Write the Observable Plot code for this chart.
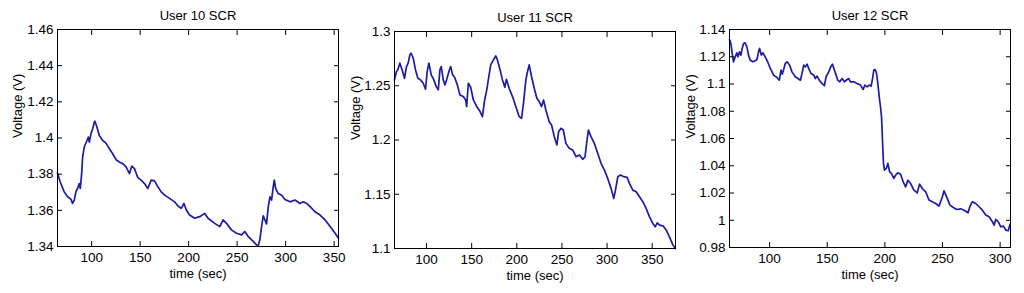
<!DOCTYPE html>
<html>
<head>
<meta charset="utf-8">
<script src="https://cdn.jsdelivr.net/npm/d3@7"></script>
<script src="https://cdn.jsdelivr.net/npm/@observablehq/plot@0.6"></script>
<style>
  html, body { margin: 0; padding: 0; background: #fff; }
  #wrap { position: relative; width: 1024px; height: 293px; overflow: hidden; font-family: "Liberation Sans", Arial, sans-serif; }
  #wrap svg { position: absolute; top: 0; }
</style>
</head>
<body>
<div id="wrap"></div>
<script>
// ---------- data ----------
const titles = ["User 10 SCR", "User 11 SCR", "User 12 SCR"];
const xLabel = "time (sec)";
const yLabel = "Voltage (V)";

const time10 = [64.8,67.6,71.7,75.2,78.6,80.3,82.1,83.8,85.5,87.2,88.3,89.7,90.7,92.4,95.2,96.6,97.6,99.3,101.0,102.8,103.4,105.5,107.9,111.4,114.8,118.3,121.7,125.2,128.6,132.1,135.5,139.0,141.4,144.1,147.6,151.0,154.5,157.9,161.4,164.8,168.3,171.7,175.2,180.3,185.5,189.0,192.4,195.2,197.6,201.0,206.2,211.4,216.6,220.0,226.9,232.1,235.5,239.0,244.1,249.3,254.5,257.9,261.4,266.6,270.0,271.7,273.4,275.2,276.9,278.6,280.3,282.1,283.8,285.5,287.2,288.3,289.7,292.4,295.9,299.3,304.5,309.7,314.8,318.3,321.7,325.2,330.3,335.5,340.7,345.9,351.0,354.5];
const volt10 = [1.3807,1.3757,1.3702,1.3675,1.3662,1.3638,1.3657,1.3702,1.3721,1.3748,1.3721,1.3803,1.3895,1.3950,1.3986,1.4005,1.3977,1.4023,1.4050,1.4087,1.4093,1.4060,1.4014,1.3986,1.3972,1.3940,1.3913,1.3880,1.3867,1.3858,1.3840,1.3803,1.3845,1.3831,1.3781,1.3767,1.3748,1.3721,1.3767,1.3763,1.3730,1.3702,1.3684,1.3666,1.3647,1.3624,1.3611,1.3638,1.3602,1.3574,1.3556,1.3565,1.3583,1.3556,1.3528,1.3510,1.3547,1.3528,1.3492,1.3473,1.3464,1.3483,1.3455,1.3428,1.3409,1.3404,1.3437,1.3510,1.3569,1.3547,1.3525,1.3620,1.3675,1.3657,1.3730,1.3767,1.3721,1.3693,1.3684,1.3660,1.3647,1.3657,1.3638,1.3647,1.3638,1.3620,1.3592,1.3574,1.3547,1.3510,1.3473,1.3446];

const time11 = [64.5,66.7,68.1,70.4,73.0,75.6,77.8,79.6,81.5,83.0,85.2,87.8,90.4,93.3,96.3,98.9,100.7,102.6,105.2,108.1,110.7,113.0,114.8,116.3,118.5,120.4,122.2,124.8,126.7,128.9,131.1,134.1,137.0,140.7,143.3,144.4,146.3,148.9,151.9,155.6,159.3,161.9,164.4,166.7,169.3,171.1,174.1,176.7,178.5,181.5,184.1,186.7,188.5,191.5,195.2,198.9,202.6,205.2,207.4,210.0,211.9,213.7,216.3,219.3,222.2,224.8,227.4,229.6,232.2,235.9,238.5,241.5,244.4,246.3,248.9,251.5,254.4,258.1,261.9,265.6,269.3,273.0,275.6,277.8,279.3,282.2,285.9,289.6,293.3,297.0,300.7,304.4,307.4,309.3,311.9,314.8,318.5,322.2,324.8,328.5,332.2,335.9,339.6,343.3,347.0,350.7,353.3,355.6,358.1,361.9,365.6,369.3,373.0,375.6];
const volt11 = [1.2554,1.2631,1.2646,1.2708,1.2646,1.2569,1.2677,1.2708,1.2785,1.2800,1.2754,1.2646,1.2569,1.2554,1.2523,1.2468,1.2631,1.2708,1.2600,1.2554,1.2492,1.2462,1.2646,1.2677,1.2554,1.2508,1.2554,1.2631,1.2677,1.2600,1.2578,1.2508,1.2415,1.2400,1.2369,1.2308,1.2523,1.2486,1.2369,1.2308,1.2262,1.2215,1.2369,1.2462,1.2600,1.2692,1.2738,1.2775,1.2738,1.2646,1.2554,1.2486,1.2560,1.2477,1.2400,1.2308,1.2215,1.2200,1.2338,1.2554,1.2631,1.2692,1.2585,1.2477,1.2385,1.2354,1.2308,1.2369,1.2277,1.2169,1.2138,1.2031,1.1954,1.2077,1.2108,1.2092,1.1969,1.1923,1.1908,1.1846,1.1862,1.1822,1.1846,1.2000,1.2092,1.2031,1.1969,1.1877,1.1785,1.1723,1.1646,1.1554,1.1462,1.1538,1.1662,1.1677,1.1662,1.1655,1.1600,1.1538,1.1523,1.1477,1.1431,1.1369,1.1292,1.1231,1.1200,1.1237,1.1215,1.1209,1.1169,1.1102,1.1031,1.1000];

const time12 = [65.2,66.4,67.5,68.7,70.1,71.6,72.5,73.9,75.1,76.2,77.4,78.8,80.3,81.7,83.2,85.5,87.5,89.0,90.7,91.3,92.8,94.2,96.2,98.3,100.6,103.5,106.4,108.4,109.9,111.0,112.2,113.6,115.1,117.4,119.4,122.3,126.7,128.1,129.6,131.0,132.5,133.9,135.9,138.3,139.7,141.2,143.5,145.5,147.5,149.0,151.3,153.3,154.5,156.2,158.0,159.1,160.9,162.9,164.9,167.2,168.7,170.1,173.0,175.9,178.8,181.2,182.6,184.6,186.4,188.1,189.3,190.4,191.6,192.8,193.9,195.1,196.2,197.1,197.7,198.3,198.8,199.7,201.2,202.6,204.1,205.8,207.8,209.3,211.3,213.6,215.9,218.0,220.0,222.3,225.2,228.1,230.1,232.5,235.4,238.3,241.2,244.1,247.0,249.9,251.3,253.6,256.5,259.4,262.3,265.8,268.7,272.2,273.9,275.9,278.8,281.7,284.6,287.5,290.4,293.3,294.8,296.2,298.3,300.6,302.9,304.9,307.0,308.7];
const volt12 = [1.1327,1.1297,1.1224,1.1163,1.1199,1.1229,1.1199,1.1236,1.1212,1.1261,1.1297,1.1302,1.1273,1.1212,1.1175,1.1163,1.1170,1.1180,1.1248,1.1261,1.1212,1.1229,1.1199,1.1163,1.1114,1.1065,1.1048,1.1028,1.1102,1.1072,1.1106,1.1151,1.1163,1.1138,1.1089,1.1053,1.1028,1.1077,1.1138,1.1126,1.1146,1.1114,1.1077,1.1065,1.1040,1.1058,1.1023,1.1004,1.0987,1.1053,1.1089,1.1131,1.1146,1.1102,1.1058,1.1028,1.1016,1.1040,1.1016,1.1033,1.1040,1.1016,1.1016,1.1004,1.0992,1.0960,1.0992,1.0979,1.0992,1.0984,1.1040,1.1102,1.1106,1.1077,1.1004,1.0906,1.0833,1.0759,1.0637,1.0514,1.0416,1.0368,1.0380,1.0417,1.0356,1.0343,1.0307,1.0331,1.0348,1.0338,1.0282,1.0245,1.0294,1.0270,1.0221,1.0201,1.0265,1.0233,1.0209,1.0148,1.0135,1.0123,1.0104,1.0172,1.0216,1.0172,1.0111,1.0094,1.0079,1.0084,1.0074,1.0055,1.0104,1.0135,1.0123,1.0099,1.0074,1.0038,1.0025,0.9989,0.9964,1.0006,0.9989,0.9952,0.9957,0.9928,0.9923,0.9972];

const xDomain10 = [64.8, 354.5], yDomain10 = [1.34, 1.46];
const xDomain11 = [64.5, 375.8], yDomain11 = [1.1, 1.3];
const xDomain12 = [65.2, 309], yDomain12 = [0.98, 1.14];

const xTicks10 = [100, 150, 200, 250, 300, 350];
const yTicks10 = [1.34, 1.36, 1.38, 1.4, 1.42, 1.44, 1.46];
const xTicks11 = [100, 150, 200, 250, 300, 350];
const yTicks11 = [1.1, 1.15, 1.2, 1.25, 1.3];
const xTicks12 = [100, 150, 200, 250, 300];
const yTicks12 = [0.98, 1, 1.02, 1.04, 1.06, 1.08, 1.1, 1.12, 1.14];

// ---------- layout ----------
const panels = [
  {title: titles[0], t: time10, v: volt10, xd: xDomain10, yd: yDomain10, xt: xTicks10, yt: yTicks10,
   left: 0, width: 345, mL: 57, mR: 7, mT: 29, mB: 47, ylabDx: -40},
  {title: titles[1], t: time11, v: volt11, xd: xDomain11, yd: yDomain11, xt: xTicks11, yt: yTicks11,
   left: 345, width: 338, mL: 49, mR: 8, mT: 31, mB: 45, ylabDx: -39},
  {title: titles[2], t: time12, v: volt12, xd: xDomain12, yd: yDomain12, xt: xTicks12, yt: yTicks12,
   left: 683, width: 341, mL: 46, mR: 14, mT: 29, mB: 46, ylabDx: -39}
];

const lineColor = "#1c1ca4";
const fmt = d => String(d);
const wrap = document.getElementById("wrap");

for (const p of panels) {
  const svg = Plot.plot({
    width: p.width,
    height: 293,
    marginLeft: p.mL, marginRight: p.mR, marginTop: p.mT, marginBottom: p.mB,
    style: {background: "transparent", overflow: "visible", fontFamily: "Liberation Sans, Arial, sans-serif", fontSize: "13px", color: "#000"},
    x: {domain: p.xd},
    y: {domain: p.yd},
    marks: [
      Plot.line(p.v, {x: p.t, y: p.v, stroke: lineColor, strokeWidth: 1.7}),
      // tick labels
      Plot.axisX(p.xt, {anchor: "bottom", tickSize: 0, tickPadding: 6, tickFormat: fmt, label: null, fontSize: 13.5}),
      Plot.axisY(p.yt, {anchor: "left", tickSize: 0, tickPadding: 4, tickFormat: fmt, label: null, fontSize: 13.5}),
      // inward tick marks on all four sides
      Plot.axisX(p.xt, {anchor: "bottom", tickSize: -5, tickFormat: () => "", label: null}),
      Plot.axisX(p.xt, {anchor: "top", tickSize: -5, tickFormat: () => "", label: null}),
      Plot.axisY(p.yt, {anchor: "left", tickSize: -5, tickFormat: () => "", label: null}),
      Plot.axisY(p.yt, {anchor: "right", tickSize: -5, tickFormat: () => "", label: null}),
      Plot.frame({stroke: "#000", strokeWidth: 1}),
      // title and axis labels
      Plot.text([p.title], {frameAnchor: "top", dy: -14, fontSize: 13, lineAnchor: "middle", fill: "#000"}),
      Plot.text([xLabel], {frameAnchor: "bottom", dy: 27, fontSize: 13, lineAnchor: "middle", fill: "#000"}),
      Plot.text([yLabel], {frameAnchor: "left", dx: p.ylabDx, rotate: -90, fontSize: 13, lineAnchor: "middle", fill: "#000"})
    ]
  });
  svg.style.left = p.left + "px";
  wrap.appendChild(svg);
}
</script>
</body>
</html>
